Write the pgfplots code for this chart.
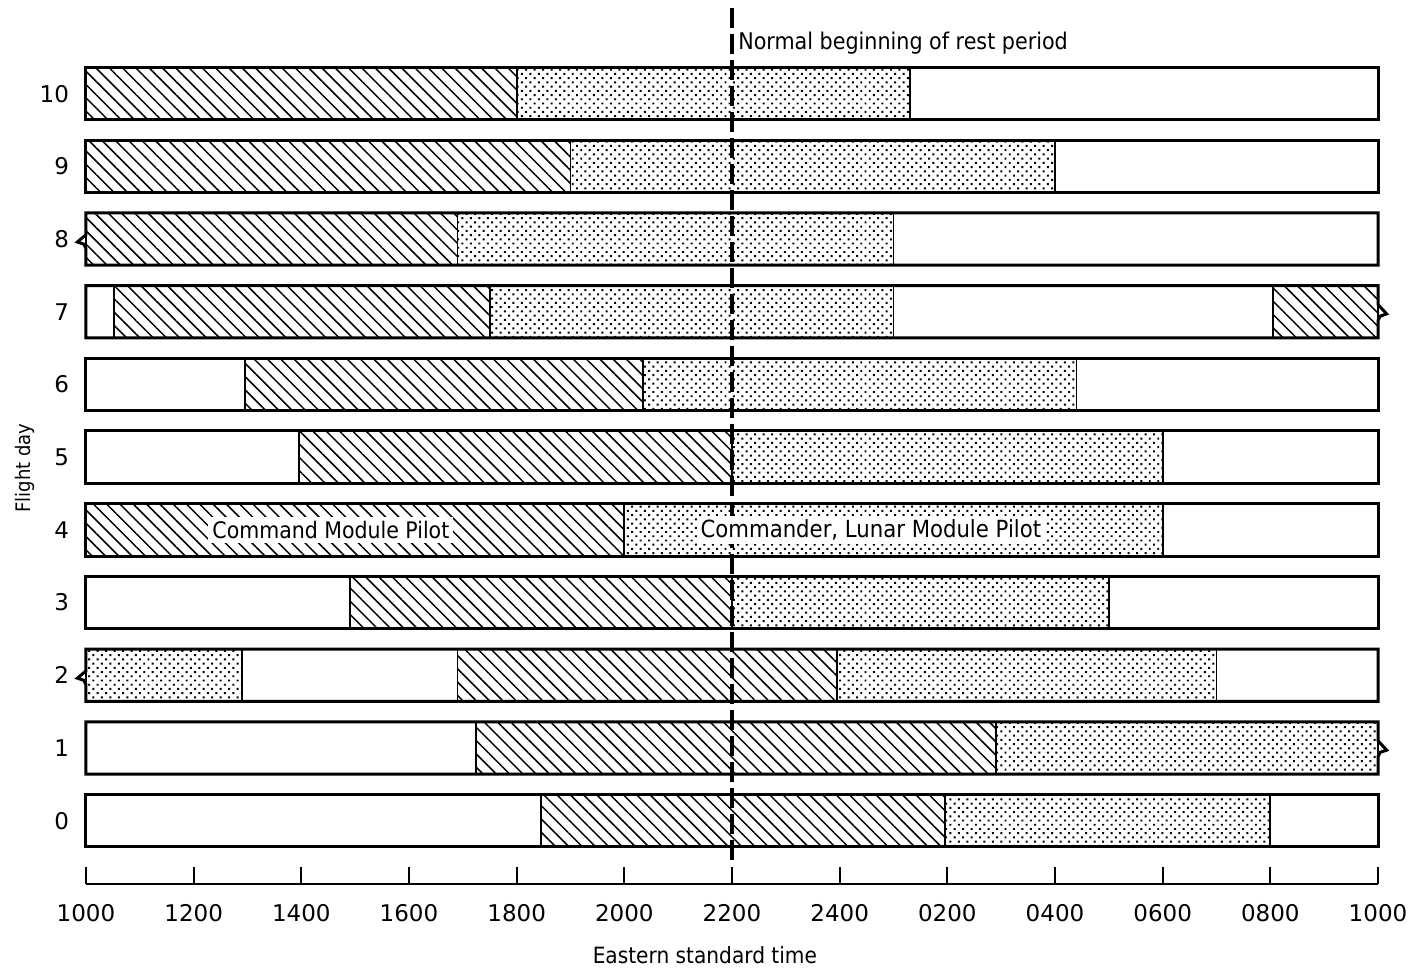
\documentclass[border=0pt]{standalone}
\usepackage{pgfplots}
\pgfplotsset{compat=1.18}
\usetikzlibrary{patterns.meta}
\usepackage{fontspec}
\setmainfont{DejaVu Sans Condensed}
\newfontfamily\numfont{DejaVu Sans}

\tikzset{
 hatch/.style={draw=black, line width=0.9pt, pattern={Lines[angle=-45,distance=4.7pt,line width=0.75pt]}},
 dots/.style={draw=black, line width=0.9pt, pattern={Dots[distance=3pt,radius=0.7pt,angle=45]}},
 blank/.style={fill=white, draw=none},
 outline/.style={draw=black, line width=1.5pt, fill=none, line join=miter},
}
\newcommand\seg[4]{%
 \pgfmathsetmacro\ylo{#3-0.36}%
 \pgfmathsetmacro\yhi{#3+0.36}%
 \edef\segtmp{\noexpand\addplot[#4] coordinates {(#1,\ylo) (#2,\ylo) (#2,\yhi) (#1,\yhi)} -- cycle;}%
 \segtmp}
% outline with a break mark on the left edge
\newcommand\outlineL[1]{%
 \pgfmathsetmacro\ylo{#1-0.36}\pgfmathsetmacro\yhi{#1+0.36}%
 \pgfmathsetmacro\ya{#1+0.06}\pgfmathsetmacro\yb{#1-0.04}\pgfmathsetmacro\yc{#1-0.07}\pgfmathsetmacro\yd{#1-0.13}%
 \edef\segtmp{\noexpand\addplot[outline] coordinates {(0,\ylo) (24,\ylo) (24,\yhi) (0,\yhi) (0,\ya) (-0.16,\yb) (-0.04,\yc) (0,\yd)} -- cycle;}%
 \segtmp}
% outline with a break mark on the right edge
\newcommand\outlineR[1]{%
 \pgfmathsetmacro\ylo{#1-0.36}\pgfmathsetmacro\yhi{#1+0.36}%
 \pgfmathsetmacro\ya{#1+0.10}\pgfmathsetmacro\yb{#1-0.03}\pgfmathsetmacro\yc{#1-0.06}\pgfmathsetmacro\yd{#1-0.12}%
 \edef\segtmp{\noexpand\addplot[outline] coordinates {(0,\ylo) (24,\ylo) (24,\yd) (24.04,\yc) (24.16,\yb) (24,\ya) (24,\yhi) (0,\yhi)} -- cycle;}%
 \segtmp}

\begin{document}
\begin{tikzpicture}
\begin{axis}[
 scale only axis, width=646pt, height=439.15pt,
 xmin=0, xmax=24, ymin=-0.871, ymax=11.21,
 clip=false,
 axis x line=bottom, axis y line=left,
 x axis line style={-, line width=1pt},
 y axis line style={draw=none},
 xtick={0,2,...,24},
 xticklabels={1000,1200,1400,1600,1800,2000,2200,2400,0200,0400,0600,0800,1000},
 ytick={0,...,10},
 tick align=inside,
 major tick length=8.5pt,
 xtick style={line width=1pt, black},
 ytick style={draw=none},
 xticklabel shift=6.6pt, yticklabel shift=5pt,
 tick label style={font=\numfont\fontsize{11.5}{13}\selectfont},
 /pgf/number format/assume math mode=true,
 xlabel={Eastern standard time}, ylabel={Flight day},
 xlabel style={at={(axis description cs:0.479,-0.0808)}, anchor=center, font=\fontsize{11.2}{13}\selectfont},
 ylabel style={at={(axis description cs:-0.0472,0.4736)}, anchor=center, font=\fontsize{10}{12}\selectfont},
]
% row 10
\seg{0}{24}{10}{blank}
\seg{0}{8.0}{10}{hatch}
\seg{8.0}{15.3}{10}{dots}
\seg{0}{24}{10}{outline}
% row 9
\seg{0}{24}{9}{blank}
\seg{0}{9.0}{9}{hatch}
\seg{9.0}{18.0}{9}{dots}
\seg{0}{24}{9}{outline}
% row 8
\seg{0}{24}{8}{blank}
\seg{0}{6.9}{8}{hatch}
\seg{6.9}{15.0}{8}{dots}
\outlineL{8}
% row 7
\seg{0}{24}{7}{blank}
\seg{0.52}{7.5}{7}{hatch}
\seg{7.5}{15.0}{7}{dots}
\seg{22.05}{24}{7}{hatch}
\outlineR{7}
% row 6
\seg{0}{24}{6}{blank}
\seg{2.95}{10.35}{6}{hatch}
\seg{10.35}{18.4}{6}{dots}
\seg{0}{24}{6}{outline}
% row 5
\seg{0}{24}{5}{blank}
\seg{3.95}{12}{5}{hatch}
\seg{12}{20}{5}{dots}
\seg{0}{24}{5}{outline}
% row 4
\seg{0}{24}{4}{blank}
\seg{0}{10.0}{4}{hatch}
\seg{10.0}{20.0}{4}{dots}
\seg{0}{24}{4}{outline}
% row 3
\seg{0}{24}{3}{blank}
\seg{4.9}{12}{3}{hatch}
\seg{12}{19.0}{3}{dots}
\seg{0}{24}{3}{outline}
% row 2
\seg{0}{24}{2}{blank}
\seg{0}{2.9}{2}{dots}
\seg{6.9}{13.95}{2}{hatch}
\seg{13.95}{21.0}{2}{dots}
\outlineL{2}
% row 1
\seg{0}{24}{1}{blank}
\seg{7.25}{16.9}{1}{hatch}
\seg{16.9}{24}{1}{dots}
\outlineR{1}
% row 0
\seg{0}{24}{0}{blank}
\seg{8.45}{15.95}{0}{hatch}
\seg{15.95}{22.0}{0}{dots}
\seg{0}{24}{0}{outline}
% dashed line
\addplot[line width=2pt, dash pattern=on 10pt off 3pt] coordinates {(12,11.18) (12,-0.595)};
\node[fill=white, inner sep=2pt, font=\fontsize{11.4}{13}\selectfont] at (axis cs:4.55,4) {Command Module Pilot};
\node[fill=white, inner sep=2pt, font=\fontsize{11.8}{13}\selectfont] at (axis cs:14.58,4) {Commander, Lunar Module Pilot};
\node[anchor=west, inner sep=0pt, font=\fontsize{11.5}{13}\selectfont] at (axis cs:12.11,10.69) {Normal beginning of rest period};
\end{axis}
\pgfresetboundingbox
\path[use as bounding box] (-43pt,-42.5pt) rectangle (669pt,442pt);
\end{tikzpicture}
\end{document}
